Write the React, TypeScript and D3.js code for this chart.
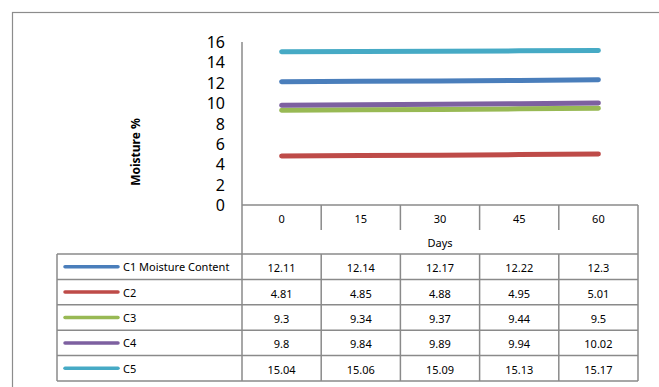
import React from "react";
import * as d3 from "d3";

const days = ["0", "15", "30", "45", "60"];
const seriesNames = ["C1 Moisture Content", "C2", "C3", "C4", "C5"];
const c1 = [12.11, 12.14, 12.17, 12.22, 12.3];
const c2 = [4.81, 4.85, 4.88, 4.95, 5.01];
const c3 = [9.3, 9.34, 9.37, 9.44, 9.5];
const c4 = [9.8, 9.84, 9.89, 9.94, 10.02];
const c5 = [15.04, 15.06, 15.09, 15.13, 15.17];
const colors = ["#4a7ebb", "#be4b48", "#98b954", "#7d60a0", "#46aac5"];
const yTicks = [0, 2, 4, 6, 8, 10, 12, 14, 16];

const W = 659;
const H = 387;
const FONT = "'Noto Sans', 'Open Sans', sans-serif";
const GRID = "#8a8a8a";

const App = () => {
  const series = [c1, c2, c3, c4, c5];

  const x = d3.scaleBand().domain(days).range([242, 638]).padding(0);
  const y = d3.scaleLinear().domain([0, 16]).range([205, 42]);
  const rows = d3.scaleBand().domain(seriesNames).range([254, 381]);

  const line = d3
    .line<number>()
    .x((d, i) => x(days[i])! + x.bandwidth() / 2)
    .y(d => y(d));

  const fmt = (v: number) => String(v);
  const tableLeft = 57;
  const [x0, x1] = x.range();

  return (
    <svg
      width={W}
      height={H}
      style={{ position: "absolute", left: 0, top: 0, background: "#fff" }}
      fontFamily={FONT}
    >
      {/* outer frame, cut off on the right and bottom */}
      <rect x={12.5} y={12.5} width={700} height={450} fill="none" stroke="#8c8c8c" strokeWidth={1.2} />

      {/* y axis */}
      <line x1={x0} x2={x0} y1={y(16)} y2={rows.range()[0]} stroke={GRID} strokeWidth={1.5} />
      {yTicks.map(t => (
        <text key={t} x={225} y={y(t)} textAnchor="end" dominantBaseline="central" fontSize={16} fill="#000">
          {t}
        </text>
      ))}
      <text
        transform={`translate(135,152) rotate(-90)`}
        textAnchor="middle"
        dominantBaseline="central"
        fontSize={12}
        fontWeight="bold"
      >
        Moisture %
      </text>

      {/* lines */}
      {series.map((s, i) => (
        <path
          key={i}
          d={line(s) || ""}
          fill="none"
          stroke={colors[i]}
          strokeWidth={5}
          strokeLinecap="round"
        />
      ))}

      {/* category header */}
      <line x1={x0} x2={x1} y1={y(0)} y2={y(0)} stroke={GRID} strokeWidth={1.5} />
      <line x1={x1} x2={x1} y1={y(0)} y2={rows.range()[0]} stroke={GRID} strokeWidth={1.5} />
      {days.map((d, i) => (
        <g key={d}>
          {i > 0 && (
            <line x1={x(d)} x2={x(d)} y1={y(0)} y2={230} stroke={GRID} strokeWidth={1.5} />
          )}
          <text x={x(d)! + x.bandwidth() / 2} y={218} textAnchor="middle" dominantBaseline="central" fontSize={11}>
            {d}
          </text>
        </g>
      ))}
      <text x={(x0 + x1) / 2} y={242} textAnchor="middle" dominantBaseline="central" fontSize={11}>
        Days
      </text>

      {/* data table */}
      {seriesNames.map((name, i) => {
        const top = rows(name)!;
        const mid = top + rows.bandwidth() / 2;
        return (
          <g key={name}>
            <line x1={tableLeft} x2={x1} y1={top} y2={top} stroke={GRID} strokeWidth={1.5} />
            <line x1={65} x2={118} y1={mid} y2={mid} stroke={colors[i]} strokeWidth={3.5} strokeLinecap="round" />
            <text x={123} y={mid} dominantBaseline="central" fontSize={11}>
              {name}
            </text>
            {series[i].map((v, j) => (
              <text
                key={j}
                x={x(days[j])! + x.bandwidth() / 2}
                y={mid + 1}
                textAnchor="middle"
                dominantBaseline="central"
                fontSize={11}
              >
                {fmt(v)}
              </text>
            ))}
          </g>
        );
      })}
      <line x1={tableLeft} x2={x1} y1={rows.range()[1]} y2={rows.range()[1]} stroke={GRID} strokeWidth={1.5} />
      {[tableLeft, ...days.map(d => x(d)!), x1].map((cx, i) => (
        <line key={i} x1={cx} x2={cx} y1={rows.range()[0]} y2={rows.range()[1]} stroke={GRID} strokeWidth={1.5} />
      ))}
    </svg>
  );
};

export default App;
